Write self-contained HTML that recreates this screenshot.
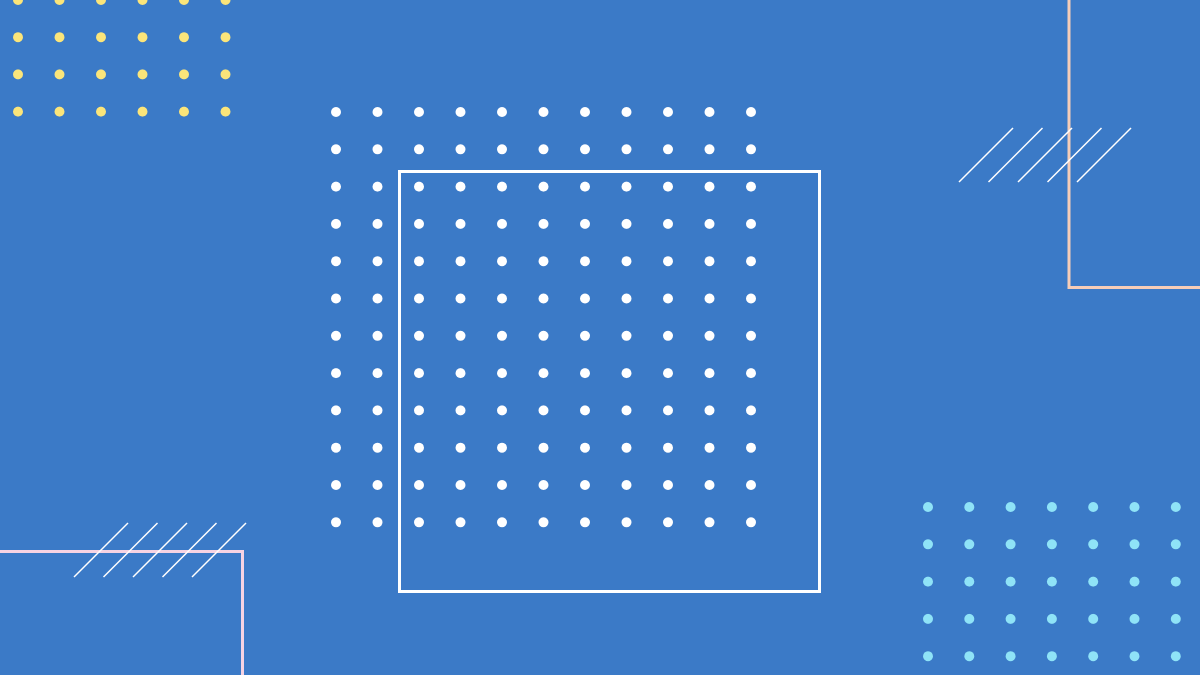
<!DOCTYPE html>
<html><head><meta charset="utf-8"><style>
html,body{margin:0;padding:0;background:#3b7ac7;}
svg{display:block}
</style></head><body>
<svg id="s" width="1200" height="675" viewBox="0 0 1200 675" xmlns="http://www.w3.org/2000/svg">
<rect width="1200" height="675" fill="#3b7ac7"/>
<rect x="399.5" y="171.5" width="420" height="420" fill="none" stroke="#ffffff" stroke-width="3"/>
<polyline points="1069,0 1069,287.5 1200,287.5" fill="none" stroke="#f6cdb8" stroke-width="3"/>
<polyline points="0,551.5 242.5,551.5 242.5,675" fill="none" stroke="#f6d3e3" stroke-width="3"/>
<g id="dots"></g>
<g id="lines"></g>
</svg>
<script>
const NS="http://www.w3.org/2000/svg";
const dots=document.getElementById('dots');
const lines=document.getElementById('lines');
function grid(name,x0,dx,nx,y0,dy,ny,color){
  for(let i=0;i<nx;i++)for(let j=0;j<ny;j++){
    const c=document.createElementNS(NS,'circle');
    c.setAttribute('cx',x0+i*dx);c.setAttribute('cy',y0+j*dy);
    c.setAttribute('r',5);c.setAttribute('fill',color);
    
    
    dots.appendChild(c);
  }
}
grid('yellow-dot',18,41.5,6,0,37.2,4,'#fbe57a');
grid('white-dot',336,41.5,11,112,37.3,12,'#ffffff');
grid('cyan-dot',928,41.3,7,507,37.3,5,'#8fe3f7');
function slashes(name,x0,y0,n){
  for(let i=0;i<n;i++){
    const l=document.createElementNS(NS,'line');
    l.setAttribute('x1',x0+i*29.5);l.setAttribute('y1',y0);
    l.setAttribute('x2',x0+54+i*29.5);l.setAttribute('y2',y0-54);
    l.setAttribute('stroke','#ffffff');l.setAttribute('stroke-width',1.5);
    
    
    lines.appendChild(l);
  }
}
slashes('top-right-slash',959,182,5);
slashes('bottom-left-slash',74,577,5);
</script>
</body></html>
